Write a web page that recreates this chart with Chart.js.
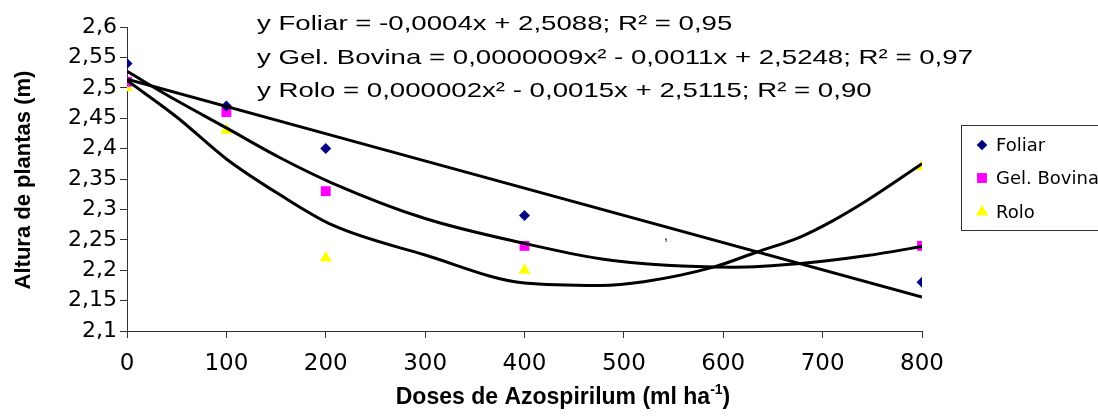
<!DOCTYPE html>
<html lang="pt">
<head>
<meta charset="UTF-8">
<title>Altura de plantas x Doses de Azospirilum</title>
<script src="https://cdn.jsdelivr.net/npm/chart.js"></script>
<style>
  html, body { margin: 0; padding: 0; background: #fff; }
</style>
</head>
<body>
<canvas id="chart" width="1098" height="417"></canvas>
<script>
// observed values (doses in ml/ha, heights in m)
const doses = [0, 100, 200, 400, 800];
const foliar = [2.54, 2.47, 2.40, 2.29, 2.18];
const gelBovina = [2.51, 2.46, 2.33, 2.24, 2.24];
const rolo = [2.50, 2.43, 2.22, 2.20, 2.37];

// trend lines
const foliarTrendX = [0, 800];
const foliarTrendY = [2.514, 2.156];
const gelTrendX = [0, 50, 100, 154, 207, 300, 400, 476, 543, 610, 678, 745, 800];
const gelTrendY = [2.527, 2.479, 2.434, 2.385, 2.343, 2.285, 2.244, 2.219, 2.208, 2.205, 2.211, 2.224, 2.239];
const roloTrendX = [0, 50, 100, 154, 207, 300, 400, 476, 520, 590, 634, 678, 711, 745, 800];
const roloTrendY = [2.512, 2.452, 2.383, 2.324, 2.274, 2.225, 2.179, 2.175, 2.181, 2.205, 2.230, 2.255, 2.282, 2.315, 2.375];

const xTicks = [0, 100, 200, 300, 400, 500, 600, 700, 800];

const equations = [
    "y Foliar = -0,0004x + 2,5088; R² = 0,95",
    "y Gel. Bovina = 0,0000009x² - 0,0011x + 2,5248; R² = 0,97",
    "y Rolo = 0,000002x² - 0,0015x + 2,5115; R² = 0,90"
];

const sans = "'Liberation Sans', Arial, sans-serif";

function pts(xs, ys) {
    return xs.map((x, i) => ({ x: x, y: ys[i] }));
}

function trend(xs, ys) {
    return {
        label: "trend",
        data: pts(xs, ys),
        showLine: true,
        borderColor: "#000",
        borderWidth: 3,
        pointRadius: 0,
        cubicInterpolationMode: "monotone",
        fill: false
    };
}

const markerSets = [
    { label: "Foliar", data: pts(doses, foliar), backgroundColor: "#000080", borderColor: "#000080", pointStyle: "rectRot", pointRadius: 5.5, borderWidth: 0 },
    { label: "Gel. Bovina", data: pts(doses, gelBovina), backgroundColor: "#ff00ff", borderColor: "#ff00ff", pointStyle: "rect", pointRadius: 7, borderWidth: 0 },
    { label: "Rolo", data: pts(doses, rolo), backgroundColor: "#ffff00", borderColor: "#ffff00", pointStyle: "triangle", pointRadius: 7, borderWidth: 0 }
];

const extras = {
    id: "extras",
    afterDraw(chart) {
        const ctx = chart.ctx;
        ctx.save();
        ctx.fillStyle = "#000";
        ctx.textBaseline = "alphabetic";
        ctx.textAlign = "left";

        // equations: a wide face, stretched to the width seen in the original
        ctx.font = "21px " + sans;
        const sx = 716 / ctx.measureText(equations[1]).width;
        equations.forEach((t, i) => {
            ctx.save();
            ctx.translate(257, 30 + i * 33.5);
            ctx.scale(sx, 1);
            ctx.fillText(t, 0, 0);
            ctx.restore();
        });

        // stray comma in plot area
        ctx.font = "14px " + sans;
        ctx.fillText(",", 664, 240);

        // y title
        ctx.font = "bold 22px " + sans;
        ctx.save();
        ctx.translate(30, 180);
        ctx.rotate(-Math.PI / 2);
        ctx.textAlign = "center";
        ctx.fillText("Altura de plantas (m)", 0, 0);
        ctx.restore();

        // x title with superscript
        const base = "Doses de Azospirilum (ml ha";
        ctx.font = "bold 23px " + sans;
        const w1 = ctx.measureText(base).width;
        ctx.font = "bold 14px " + sans;
        const w2 = ctx.measureText("-1").width;
        ctx.font = "bold 23px " + sans;
        const w3 = ctx.measureText(")").width;
        const x0 = 563 - (w1 + w2 + w3) / 2;
        ctx.fillText(base, x0, 404);
        ctx.font = "bold 14px " + sans;
        ctx.fillText("-1", x0 + w1, 394);
        ctx.font = "bold 23px " + sans;
        ctx.fillText(")", x0 + w1 + w2, 404);

        // legend
        ctx.strokeStyle = "#333";
        ctx.lineWidth = 1;
        ctx.fillStyle = "#fff";
        ctx.fillRect(961.5, 125.5, 160, 105);
        ctx.strokeRect(961.5, 125.5, 160, 105);
        const rows = [145, 178, 212];
        const sizes = [5.3, 7, 7.2];
        ctx.font = "18px 'DejaVu Sans', " + sans;
        ctx.textBaseline = "middle";
        markerSets.forEach((ds, i) => {
            ctx.fillStyle = ds.backgroundColor;
            Chart.helpers.drawPoint(ctx, { pointStyle: ds.pointStyle, radius: sizes[i], rotation: 0, borderWidth: 0 }, 982, rows[i]);
            ctx.fillStyle = "#000";
            ctx.fillText(ds.label, 996, rows[i] + 1);
        });
        ctx.restore();
    }
};

new Chart(document.getElementById("chart"), {
    type: "scatter",
    data: {
        datasets: [
            trend(foliarTrendX, foliarTrendY),
            trend(gelTrendX, gelTrendY),
            trend(roloTrendX, roloTrendY)
        ].concat(markerSets)
    },
    options: {
        responsive: false,
        devicePixelRatio: 1,
        animation: false,
        layout: { padding: { top: 27, right: 176, left: 0, bottom: 0 } },
        plugins: {
            legend: { display: false },
            tooltip: { enabled: false }
        },
        scales: {
            x: {
                type: "linear",
                min: 0,
                max: 800,
                afterBuildTicks: (scale) => { scale.ticks = xTicks.map(v => ({ value: v })); },
                afterFit: (scale) => { scale.height = 86; },
                ticks: {
                    autoSkip: false,
                    color: "#000",
                    padding: 12,
                    font: { family: "'DejaVu Sans'", size: 23 },
                    callback: (v) => String(v)
                },
                grid: { drawOnChartArea: false, drawTicks: true, tickLength: 7, color: "#333" },
                border: { color: "#333", width: 1 }
            },
            y: {
                min: 2.1,
                max: 2.6,
                afterFit: (scale) => { scale.width = 127; },
                ticks: {
                    stepSize: 0.05,
                    color: "#000",
                    padding: 3,
                    font: { family: "'DejaVu Sans'", size: 22 },
                    callback: (v) => (Math.round(v * 100) / 100).toString().replace(".", ",")
                },
                grid: { drawOnChartArea: false, drawTicks: true, tickLength: 7, color: "#333" },
                border: { color: "#333", width: 1 }
            }
        }
    },
    plugins: [extras]
});
</script>
</body>
</html>
